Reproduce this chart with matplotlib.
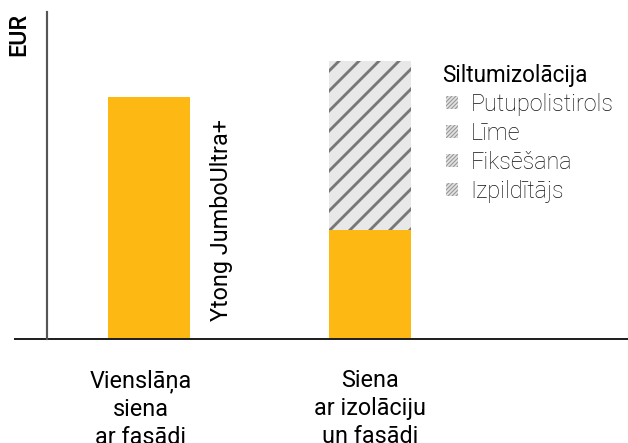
import matplotlib
matplotlib.use("Agg")
import matplotlib.pyplot as plt
from matplotlib.patches import Patch
from matplotlib.transforms import ScaledTranslation

# Data
categories = ["Vienslāņa\nsiena\nar fasādi", "Siena\nar izolāciju\nun fasādi"]
base_values = [242, 109]          # Ytong JumboUltra+ part
insulation_values = [0, 169]      # Siltumizolācija part
legend_title = "Siltumizolācija"
legend_items = ["Putupolistirols", "Līme", "Fiksēšana", "Izpildītājs"]
bar_label = "Ytong JumboUltra+"
y_label = "EUR"

ORANGE = "#FDB813"
HATCH_BG = "#E8E8E8"
HATCH_FG = "#777777"

DPI = 120
plt.rcParams['font.family'] = ['Roboto', 'DejaVu Sans']
plt.rcParams['hatch.linewidth'] = 1.7

fig = plt.figure(figsize=(628 / DPI, 443 / DPI), dpi=DPI)
W, H = 628, 443
ax_left, ax_right, ax_top, ax_bottom = 47, 628, 12, 339
ax = fig.add_axes([ax_left / W, (H - ax_bottom) / H,
                   (ax_right - ax_left) / W, (ax_bottom - ax_top) / H])

x = list(range(len(categories)))
width = 0.371
ax.bar(x, base_values, width=width, color=ORANGE, linewidth=0)
ax.bar(x, insulation_values, width=width, bottom=base_values,
       color=HATCH_BG, edgecolor=HATCH_FG, linewidth=0, hatch='//')

ax.set_xlim(-0.4615, 2.167)
ax.set_ylim(0, 327)

for s in ['top', 'right', 'bottom']:
    ax.spines[s].set_visible(False)
ax.spines['left'].set_color('#555555')
ax.spines['left'].set_linewidth(1.3)
ax.set_yticks([])

# baseline extending left of the axis
ax.plot([-33 / 581, 1], [0, 0], transform=ax.transAxes, color='#222222',
        lw=1.2, clip_on=False, solid_capstyle='butt')

ax.set_xticks(x)
ax.set_xticklabels(categories, fontsize=14, linespacing=1.28)
ax.tick_params(axis='x', length=0, pad=18)
lab0 = ax.get_xticklabels()[0]
lab0.set_transform(lab0.get_transform() + ScaledTranslation(-8 / DPI, 0, fig.dpi_scale_trans))

fig.text(19 / W, 1 - 34 / H, y_label, rotation=90, fontsize=14,
         fontweight='medium', ha='center', va='center')

ax.text(0.33, 119, bar_label, rotation=90, fontsize=14, ha='center', va='center')

plt.rcParams['hatch.linewidth'] = 0.7
handles = [Patch(facecolor='#E4E4E4', edgecolor='#999999', linewidth=0, hatch='//////////')
           for _ in legend_items]
leg = ax.legend(handles, legend_items, title=legend_title, loc='upper left',
                bbox_to_anchor=(446 / W, (H - 64) / H), bbox_transform=fig.transFigure,
                frameon=False, prop={'size': 14, 'weight': 'light'},
                title_fontproperties={'size': 13.5, 'weight': 'normal'},
                alignment='left', handlelength=0.5, handleheight=0.5,
                handletextpad=0.55, labelspacing=0.255, borderpad=0, borderaxespad=0)
for t in leg.get_texts():
    t.set_color('#111111')
# shift title slightly left relative to the entries
leg.get_title().set_transform(leg.get_title().get_transform()
                              + ScaledTranslation(-4 / DPI, 0, fig.dpi_scale_trans))

fig.savefig("out.png", dpi=DPI)
